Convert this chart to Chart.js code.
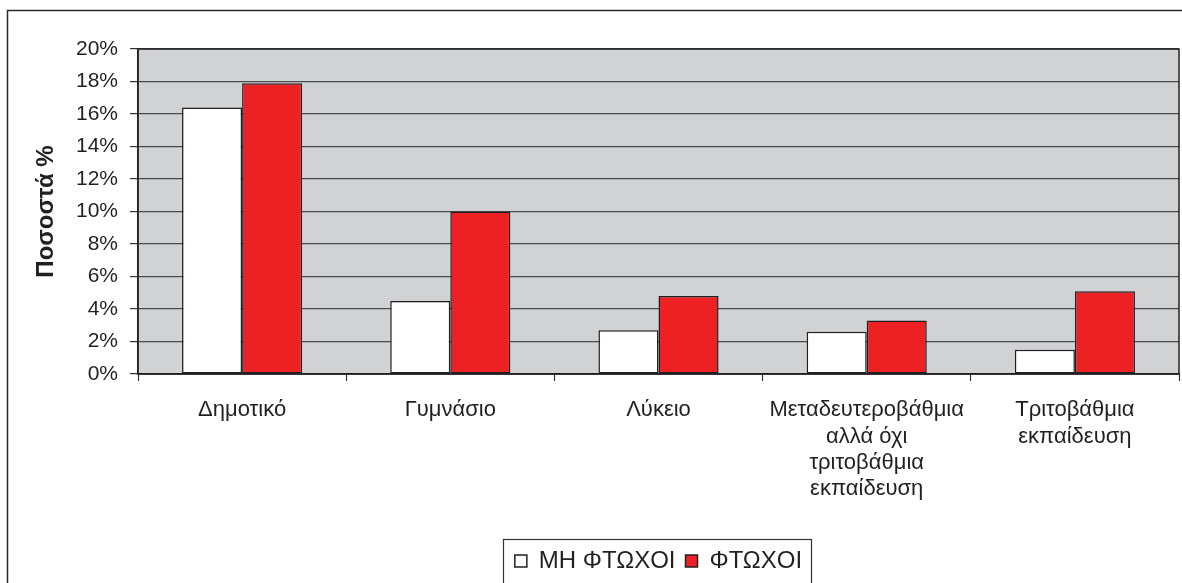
<!DOCTYPE html>
<html>
<head>
<meta charset="utf-8">
<script src="https://cdn.jsdelivr.net/npm/chart.js@4.4.1/dist/chart.umd.min.js"></script>
<style>
  html, body { margin: 0; padding: 0; background: #ffffff; }
  #wrap { width: 1182px; height: 583px; position: relative; }
</style>
</head>
<body>
<div id="wrap"><canvas id="c" width="1182" height="583"></canvas></div>
<script>
// Education level categories (multi-line labels)
const categories = [
  "Δημοτικό",
  "Γυμνάσιο",
  "Λύκειο",
  ["Μεταδευτεροβάθμια", "αλλά όχι", "τριτοβάθμια", "εκπαίδευση"],
  ["Τριτοβάθμια", "εκπαίδευση"]
];
// Share (%) per education level
const nonPoor = [16.4, 4.5, 2.7, 2.6, 1.5];
const poor = [17.9, 10.0, 4.8, 3.3, 5.1];
const seriesNames = ["ΜΗ ΦΤΩΧΟΙ", "ΦΤΩΧΟΙ"];
const yTicks = { min: 0, max: 20, step: 2 };
const yTitle = "Ποσοστά %";

const FONT = "'Liberation Sans', Arial, sans-serif";
const INK = "#231f20";

// Plot background, plot frame, outer frame and legend frame
const framePlugin = {
  id: 'frames',
  beforeDraw(chart) {
    const ctx = chart.ctx;
    const a = chart.chartArea;
    ctx.save();
    ctx.fillStyle = '#ffffff';
    ctx.fillRect(0, 0, chart.width, chart.height);
    ctx.fillStyle = '#d1d2d4';
    ctx.fillRect(a.left, a.top, a.right - a.left, a.bottom - a.top);
    ctx.restore();
  },
  afterDraw(chart) {
    const ctx = chart.ctx;
    const a = chart.chartArea;
    ctx.save();
    ctx.strokeStyle = '#222';
    ctx.lineWidth = 1.5;
    ctx.strokeRect(a.left, a.top, a.right - a.left, a.bottom - a.top);
    // outer frame
    ctx.strokeStyle = '#2a2a2a';
    ctx.lineWidth = 1.5;
    ctx.strokeRect(7.5, 10.5, chart.width + 20, chart.height + 20);
    // legend frame
    const lg = chart.legend;
    if (lg && lg.legendHitBoxes && lg.legendHitBoxes.length) {
      const hb = lg.legendHitBoxes;
      const l = hb[0].left - 12;
      const r = hb[hb.length - 1].left + hb[hb.length - 1].width + 9;
      ctx.strokeStyle = '#333';
      ctx.lineWidth = 1.2;
      ctx.strokeRect(Math.round(l) + 0.5, lg.top + 0.5, Math.round(r - l), chart.height);
    }
    ctx.restore();
  }
};

new Chart(document.getElementById('c'), {
  type: 'bar',
  data: {
    labels: categories,
    datasets: [
      {
        label: seriesNames[0],
        data: nonPoor,
        backgroundColor: '#ffffff',
        borderColor: '#231f20',
        borderWidth: 1.5,
        borderSkipped: false
      },
      {
        label: seriesNames[1],
        data: poor,
        backgroundColor: '#ed2024',
        borderColor: '#231f20',
        borderWidth: 1.5,
        borderSkipped: false
      }
    ]
  },
  options: {
    responsive: false,
    animation: false,
    devicePixelRatio: 1,
    layout: { padding: { left: 7, top: 49, right: 3, bottom: 0 } },
    datasets: { bar: { categoryPercentage: 0.577, barPercentage: 1.0 } },
    plugins: {
      tooltip: { enabled: false },
      title: { display: false },
      legend: {
        display: true,
        position: 'bottom',
        fullSize: false,
        labels: {
          color: INK,
          font: { family: FONT, size: 24 },
          boxWidth: 12,
          boxHeight: 12,
          padding: 10
        }
      }
    },
    scales: {
      x: {
        offset: true,
        afterFit(s) { s.height = 165; },
        grid: {
          display: true,
          drawOnChartArea: false,
          offset: true,
          tickLength: 7,
          tickColor: '#333',
          tickWidth: 1.2
        },
        border: { display: true, color: '#1a1a1a', width: 1.5 },
        ticks: {
          color: INK,
          font: { family: FONT, size: 22, lineHeight: 1.2 },
          padding: 16,
          maxRotation: 0,
          autoSkip: false
        }
      },
      y: {
        min: yTicks.min,
        max: yTicks.max,
        afterFit(s) { s.width = 131; },
        grid: {
          color: '#4a4a4a',
          lineWidth: 1.2,
          tickLength: 8,
          tickColor: '#333',
          tickWidth: 1.2
        },
        border: { display: true, color: '#1a1a1a', width: 1.5 },
        ticks: {
          stepSize: yTicks.step,
          color: INK,
          padding: 12,
          font: { family: FONT, size: 21 },
          callback: v => v + '%'
        },
        title: {
          display: true,
          text: yTitle,
          color: INK,
          font: { family: FONT, size: 24, weight: 'bold' },
          padding: { top: 25, bottom: 0 }
        }
      }
    }
  },
  plugins: [framePlugin]
});
</script>
</body>
</html>
